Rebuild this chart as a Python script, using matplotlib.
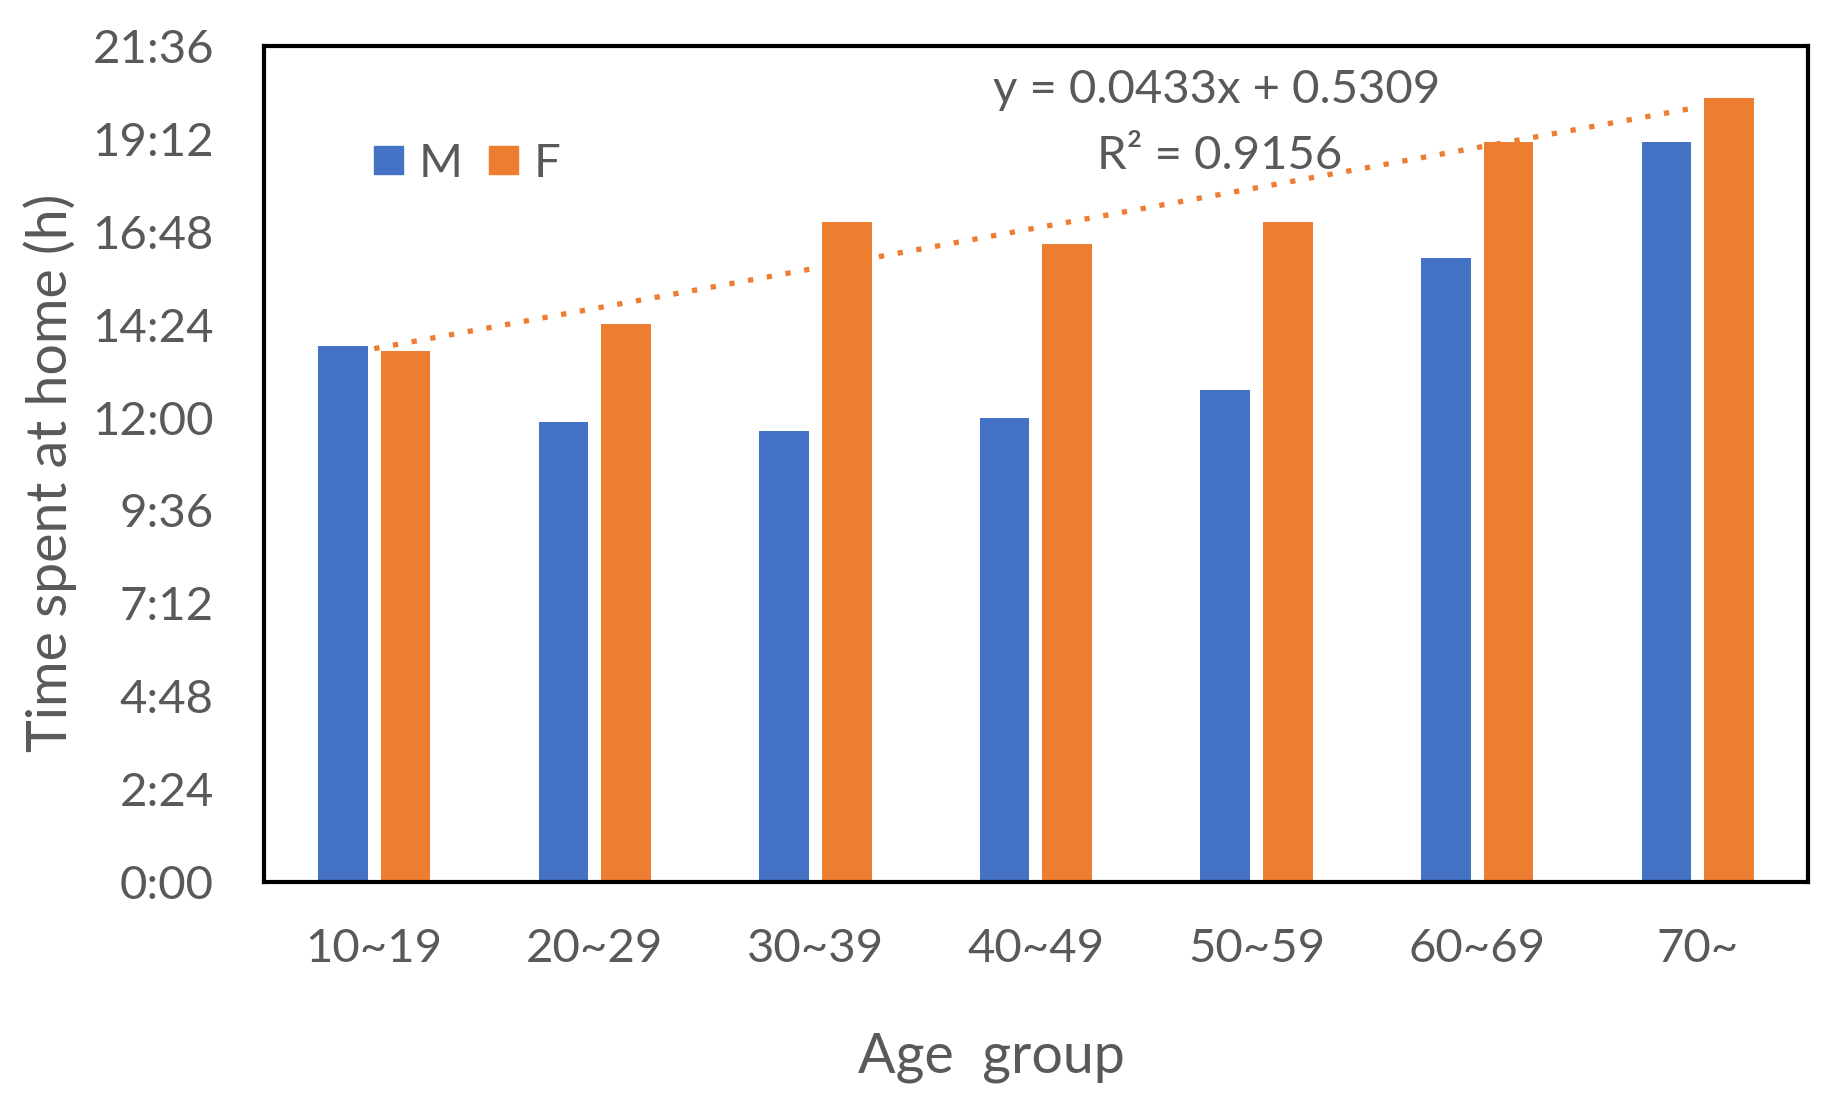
import matplotlib
matplotlib.use("Agg")
import matplotlib.pyplot as plt
from matplotlib.patches import Patch
from matplotlib.ticker import FuncFormatter, MultipleLocator
import numpy as np

age_groups = ["10~19", "20~29", "30~39", "40~49", "50~59", "60~69", "70~"]
male_time = ["13:51", "11:53", "11:39", "12:00", "12:42", "16:08", "19:07"]
female_time = ["13:43", "14:25", "17:03", "16:29", "17:03", "19:07", "20:16"]

# Linear trendline on F (Excel, x = 1..7, y in days)
trend_slope = 0.0433
trend_intercept = 0.5309
trend_r2 = 0.9156

BLUE = "#4472C4"
ORANGE = "#ED7D31"
GREY = "#595959"


def to_days(hm):
    h, m = hm.split(":")
    return (int(h) + int(m) / 60) / 24


def day_fmt(v, pos):
    mins = int(round(v * 24 * 60))
    return f"{mins // 60}:{mins % 60:02d}"


plt.rcParams["font.family"] = ["Lato", "DejaVu Sans"]

male = np.array([to_days(t) for t in male_time])
female = np.array([to_days(t) for t in female_time])
x = np.arange(len(age_groups))

fig = plt.figure(figsize=(18.29, 11.07), dpi=100)
ax = fig.add_axes([0.1443, 0.2033, 0.8442, 0.7551])

bar_w = 0.225
off = 0.142
ax.bar(x - off, male, width=bar_w, color=BLUE, zorder=2)
ax.bar(x + off, female, width=bar_w, color=ORANGE, zorder=2)

# trendline through category centers
trend = trend_slope * (x + 1) + trend_intercept
ax.plot(x, trend, color=ORANGE, lw=3.8, linestyle=(0, (1, 2.6)),
        dash_capstyle="butt", zorder=3)

ax.text(0.617, 0.948, f"y = {trend_slope}x + {trend_intercept}", transform=ax.transAxes,
        ha="center", va="center", fontsize=34, color=GREY)
ax.text(0.619, 0.868, f"R² = {trend_r2}", transform=ax.transAxes,
        ha="center", va="center", fontsize=34, color=GREY)

ax.set_xlim(-0.5, len(age_groups) - 0.5)
ax.set_ylim(0, 0.9)
ax.yaxis.set_major_locator(MultipleLocator(0.1))
ax.yaxis.set_major_formatter(FuncFormatter(day_fmt))
ax.set_xticks(x)
ax.set_xticklabels(age_groups)
ax.tick_params(axis="both", length=0, labelsize=34, labelcolor=GREY)
ax.tick_params(axis="y", pad=36)
ax.tick_params(axis="x", pad=33)

for s in ax.spines.values():
    s.set_linewidth(3)
    s.set_color("black")

ax.set_ylabel("Time spent at home (h)", fontsize=40, color=GREY)
ax.yaxis.set_label_coords(-0.121, 0.49)
ax.set_xlabel("Age  group", fontsize=40, color=GREY)
ax.xaxis.set_label_coords(0.471, -0.18)

handles = [Patch(color=BLUE, label="M"), Patch(color=ORANGE, label="F")]
ax.legend(handles=handles, loc="center left", bbox_to_anchor=(0.0712, 0.859),
          ncol=2, frameon=False, fontsize=34, labelcolor=GREY,
          handlelength=0.62, handleheight=0.55, handletextpad=0.33,
          columnspacing=0.55, borderpad=0, borderaxespad=0)

fig.savefig("out.png", dpi=100)
